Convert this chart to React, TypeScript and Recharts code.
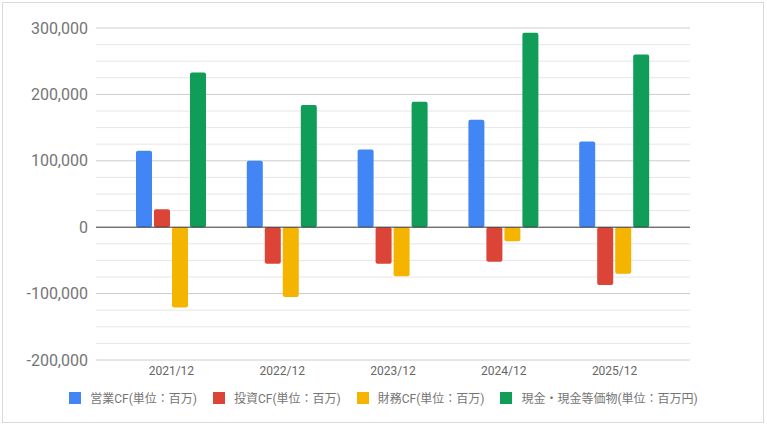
import { BarChart, Bar, XAxis, YAxis, CartesianGrid, ReferenceLine } from "recharts";

const categories = ["2021/12", "2022/12", "2023/12", "2024/12", "2025/12"];
const operatingCF = [115000, 100000, 117000, 162000, 129000];
const investingCF = [27000, -55000, -55000, -52000, -87000];
const financingCF = [-121000, -105000, -74000, -21000, -70000];
const cashEquivalents = [233000, 184000, 189000, 293000, 260000];

const majorTicks = [-200000, -100000, 0, 100000, 200000, 300000];
const minorTicks = [
  -175000, -150000, -125000, -75000, -50000, -25000, 25000, 50000, 75000,
  125000, 150000, 175000, 225000, 250000, 275000,
];

const series = [
  { key: "operating", name: "営業CF(単位：百万)", color: "#4285F4", values: operatingCF },
  { key: "investing", name: "投資CF(単位：百万)", color: "#DB4437", values: investingCF },
  { key: "financing", name: "財務CF(単位：百万)", color: "#F4B400", values: financingCF },
  { key: "cash", name: "現金・現金等価物(単位：百万円)", color: "#0F9D58", values: cashEquivalents },
];

const data = categories.map((period, i) => {
  const row: Record<string, string | number> = { period };
  series.forEach((s) => (row[s.key] = s.values[i]));
  return row;
});

const font = "Roboto, 'Noto Sans CJK JP', sans-serif";

export default function App() {
  return (
    <div style={{ position: "relative", width: 767, height: 426, background: "#fff", fontFamily: font }}>
      <style>{`body{margin:0}`}</style>
      <div
        style={{
          position: "absolute",
          left: 2,
          top: 2,
          width: 762,
          height: 421,
          border: "1px solid #d9d9d9",
          boxSizing: "border-box",
        }}
      />
      <div style={{ position: "absolute", left: 0, top: 0 }}>
        <BarChart
          width={767}
          height={426}
          data={data}
          margin={{ top: 28, right: 77, bottom: 36, left: 0 }}
          barGap={2}
          barSize={16}
        >
          <CartesianGrid
            vertical={false}
            stroke="#e6e6e6"
            horizontalValues={minorTicks}
            syncWithTicks={false}
          />
          <CartesianGrid
            vertical={false}
            stroke="#cccccc"
            horizontalValues={majorTicks.filter((v) => v !== 0)}
            syncWithTicks={false}
          />
          <XAxis
            dataKey="period"
            axisLine={false}
            tickLine={false}
            tickMargin={0}
            padding={{ left: 20, right: 20 }}
            tick={{ fontSize: 12, fill: "#666666", fontFamily: font }}
          />
          <YAxis
            width={96}
            domain={[-200000, 300000]}
            ticks={majorTicks}
            interval={0}
            axisLine={false}
            tickLine={false}
            tick={{ fontSize: 16, fill: "#757575", fontFamily: font }}
            tickFormatter={(v: number) => v.toLocaleString("en-US")}
          />
          {series.map((s) => (
            <Bar key={s.key} dataKey={s.key} name={s.name} fill={s.color} radius={2} isAnimationActive={false} />
          ))}
          <ReferenceLine y={0} stroke="#333333" />
        </BarChart>
      </div>
      <div
        style={{
          position: "absolute",
          left: 0,
          top: 389,
          width: 767,
          display: "flex",
          justifyContent: "center",
          alignItems: "center",
          gap: 16,
          fontSize: 12,
          color: "#757575",
        }}
      >
        {series.map((s) => (
          <div key={s.key} style={{ display: "flex", alignItems: "center" }}>
            <span style={{ width: 12, height: 12, background: s.color, marginRight: 9, display: "inline-block" }} />
            <span>{s.name}</span>
          </div>
        ))}
      </div>
    </div>
  );
}
